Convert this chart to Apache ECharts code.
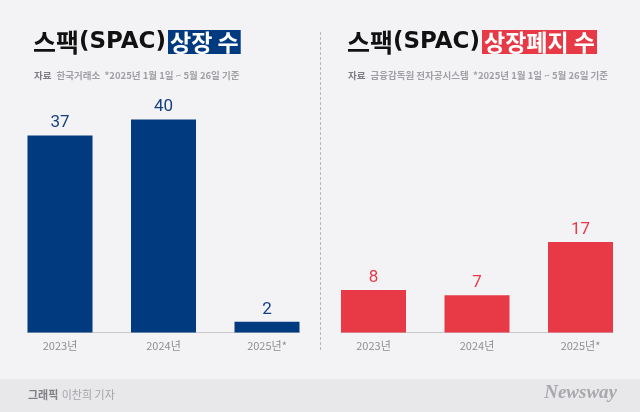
<!DOCTYPE html>
<html>
<head>
<meta charset="utf-8">
<script src="https://cdn.jsdelivr.net/npm/echarts@6/dist/echarts.min.js"></script>
<style>
html,body{margin:0;padding:0;background:#f3f3f6;}
#c{width:640px;height:412px;}
</style>
</head>
<body>
<div id="c"></div>
<script>
// ---- data ----
var categories = ['2023년', '2024년', '2025년*'];
var listings = [37, 40, 2];
var delistings = [8, 7, 17];
var leftSource = '한국거래소';
var rightSource = '금융감독원 전자공시스템';
var note = '*2025년 1월 1일 ~ 5월 26일 기준';

var chart = echarts.init(document.getElementById('c'), null, {renderer: 'canvas'});
var KR = '"Noto Sans CJK KR", "Noto Sans", sans-serif';
var BLUE = '#023a80';
var RED = '#e83946';
var BAR_W = 65;
var HALF = BAR_W / 2 / 103.5;

function pts(vals) { return vals.map(function (v, i) { return [i, v]; }); }

function titleRich(boxColor) {
  return {
    k: {fontFamily: KR, fontSize: 25, fontWeight: 'bold', color: '#111', lineHeight: 22},
    l: {fontFamily: '"DejaVu Sans", sans-serif', fontSize: 23, fontWeight: 'bold', color: '#111', lineHeight: 22},
    g: {width: 2, fontSize: 10},
    box: {fontFamily: KR, fontSize: 23, fontWeight: 'bold', color: '#fff', backgroundColor: boxColor,
          padding: [1, 2, 0, 2], lineHeight: 19}
  };
}
function subRich() {
  return {
    b: {fontFamily: KR, fontSize: 9.5, fontWeight: 'bold', color: '#7e7e82'},
    n: {fontFamily: KR, fontSize: 9.5, color: '#a0a0a4'}
  };
}
function xAxis(gi) {
  return {
    type: 'value', gridIndex: gi, min: -HALF, max: 2 + HALF,
    splitLine: {show: false},
    axisTick: {show: false},
    axisLine: {show: true, lineStyle: {color: '#c9c9cc', width: 1}},
    axisLabel: {
      customValues: [0, 1, 2], margin: 8,
      fontFamily: KR, fontSize: 11, color: '#8e8e92',
      formatter: function (v) { return categories[Math.round(v)]; }
    }
  };
}
function yAxis(gi) {
  return {type: 'value', gridIndex: gi, min: 0, max: 45, show: false, splitLine: {show: false}};
}

chart.setOption({
  backgroundColor: '#f3f3f6',
  animation: false,
  graphic: [
    {type: 'rect', shape: {x: 0, y: 379, width: 640, height: 33}, style: {fill: '#e8e8eb'}, z: -1},
    {type: 'line', shape: {x1: 320.5, y1: 32, x2: 320.5, y2: 352},
     style: {stroke: '#b8b8bc', lineWidth: 1, lineDash: [3, 2]}},
    {type: 'text', left: 28, top: 389,
     style: {text: '{b|그래픽} {n|이찬희 기자}',
             rich: {b: {fontFamily: KR, fontSize: 11, fontWeight: 'bold', fill: '#808085'},
                    n: {fontFamily: KR, fontSize: 11, fill: '#a4a4a8'}}}},
    {type: 'text', right: 23, top: 384,
     style: {text: 'Newsway', fontFamily: '"Liberation Serif", serif', fontStyle: 'italic',
             fontWeight: 'bold', fontSize: 19, fill: '#a8a8ac'}}
  ],
  title: [
    {left: 28, top: 26, text: '{k|스팩}{l|(SPAC)}{g| }{box|상장 수}', textStyle: {rich: titleRich(BLUE)}},
    {left: 342, top: 26, text: '{k|스팩}{l|(SPAC)}{g| }{box|상장폐지 수}', textStyle: {rich: titleRich(RED)}},
    {left: 29, top: 61, text: '{b|자료} {n|' + leftSource + '  ' + note + '}', textStyle: {rich: subRich()}},
    {left: 343, top: 61, text: '{b|자료} {n|' + rightSource + '  ' + note + '}', textStyle: {rich: subRich()}}
  ],
  grid: [
    {left: 27.5, right: 340.5, top: 93, bottom: 79.5},
    {left: 341, right: 27, top: 93, bottom: 79.5}
  ],
  xAxis: [xAxis(0), xAxis(1)],
  yAxis: [yAxis(0), yAxis(1)],
  series: [
    {type: 'bar', xAxisIndex: 0, yAxisIndex: 0, data: pts(listings), barWidth: BAR_W,
     itemStyle: {color: BLUE},
     label: {show: true, position: 'top', distance: 4, fontFamily: 'Roboto, sans-serif', fontSize: 17, color: '#153f82'}},
    {type: 'bar', xAxisIndex: 1, yAxisIndex: 1, data: pts(delistings), barWidth: BAR_W,
     itemStyle: {color: RED},
     label: {show: true, position: 'top', distance: 4, fontFamily: 'Roboto, sans-serif', fontSize: 17, color: '#e8394a'}}
  ]
});
</script>
</body>
</html>
